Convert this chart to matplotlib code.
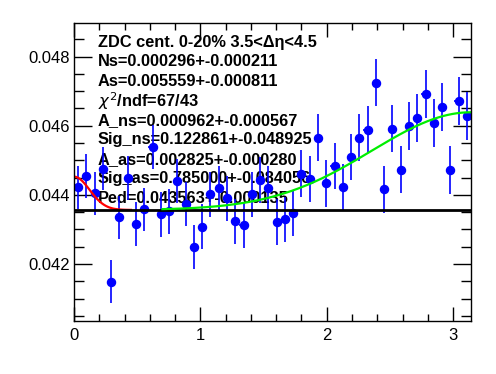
import numpy as np
import matplotlib
matplotlib.use("Agg")
import matplotlib.pyplot as plt
from matplotlib.ticker import MultipleLocator

plt.rcParams['font.family'] = ['Liberation Sans', 'DejaVu Sans']

# ---- data (48 bins from 0 to pi) ----
nbins = 48
y_vals = [0.044213, 0.044538, 0.044039, 0.044761, 0.041489, 0.043347, 0.044489, 0.043154,
          0.043578, 0.045389, 0.043434, 0.043520, 0.044394, 0.043731, 0.042499, 0.043076,
          0.044011, 0.044184, 0.043895, 0.043240, 0.043125, 0.044011, 0.044423, 0.044184,
          0.043220, 0.043289, 0.043480, 0.044616, 0.044452, 0.045655, 0.044328, 0.044827,
          0.044213, 0.045095, 0.045655, 0.045886, 0.047241, 0.044155, 0.045914, 0.044732,
          0.045981, 0.046232, 0.046924, 0.046087, 0.046538, 0.044712, 0.046722, 0.046289]
y_errs = [0.00061, 0.00063, 0.00062, 0.00063, 0.00063, 0.00063, 0.00064, 0.00063,
          0.00063, 0.00063, 0.00064, 0.00064, 0.00064, 0.00064, 0.00064, 0.00065,
          0.00065, 0.00065, 0.00065, 0.00065, 0.00065, 0.00066, 0.00066, 0.00066,
          0.00066, 0.00066, 0.00066, 0.00067, 0.00067, 0.00067, 0.00067, 0.00067,
          0.00067, 0.00067, 0.00068, 0.00068, 0.00068, 0.00068, 0.00068, 0.00068,
          0.00069, 0.00069, 0.00069, 0.00069, 0.00069, 0.00069, 0.00069, 0.00069]

# fit parameters
Ped = 0.043563
A_ns, Sig_ns = 0.000962, 0.122861
A_as, Sig_as = 0.002825, 0.785000

text_lines = [
    "ZDC cent. 0-20% 3.5<\u0394\u03b7<4.5",
    "Ns=0.000296+-0.000211",
    "As=0.005559+-0.000811",
    r"$\chi^{2}$/ndf=67/43",
    "A_ns=0.000962+-0.000567",
    "Sig_ns=0.122861+-0.048925",
    "A_as=0.002825+-0.000280",
    "Sig_as=0.785000+-0.084056",
    "Ped=0.043563+-0.000135",
]

xmin, xmax = 0.0, np.pi
bw = (xmax - xmin) / nbins
x_centers = xmin + (np.arange(nbins) + 0.5) * bw

fig = plt.figure(figsize=(4.96, 3.74), dpi=100)
ax = fig.add_axes([74/496, 1-321/374, (471-74)/496, (321-23)/374])

y0 = 42.3
for k, t in enumerate(text_lines):
    ax.text(98/496, 1 - (y0 + 19.5*k)/374, t, fontsize=11.8, fontweight='bold',
            va='center', ha='left', zorder=1, transform=fig.transFigure)

ax.errorbar(x_centers, y_vals, yerr=y_errs, xerr=bw/2, fmt='o', color='#0000ff',
            ms=5.8, elinewidth=1.2, capsize=0, zorder=3)

xs_ns = np.linspace(0, 0.45, 100)
ax.plot(xs_ns, Ped + A_ns*np.exp(-xs_ns**2/(2*Sig_ns**2)), color='#ff0000', lw=1.6, zorder=4)
xs_as = np.linspace(0.70, np.pi, 200)
ax.axhline(Ped, color='black', lw=2.0, zorder=4)
ax.plot(xs_as, Ped + A_as*np.exp(-(xs_as-np.pi)**2/(2*Sig_as**2)), color='#00ee00', lw=1.6, zorder=5)

ax.set_xlim(xmin, xmax)
ax.set_ylim(0.04035, 0.04897)
ax.xaxis.set_major_locator(MultipleLocator(1))
ax.xaxis.set_minor_locator(MultipleLocator(0.2))
ax.yaxis.set_major_locator(MultipleLocator(0.002))
ax.yaxis.set_minor_locator(MultipleLocator(0.0005))
ax.yaxis.set_major_formatter(matplotlib.ticker.FuncFormatter(lambda v, p: f"{v:.3f}"))
ax.tick_params(which='both', direction='in', top=True, right=True, labelsize=12, color='black')
ax.tick_params(which='major', axis='y', length=13, width=1)
ax.tick_params(which='minor', axis='y', length=7, width=1)
ax.tick_params(which='major', axis='x', length=10, width=1, pad=5)
ax.tick_params(which='minor', axis='x', length=5, width=1)
ax.tick_params(axis='y', pad=3)
for s in ax.spines.values():
    s.set_linewidth(1.0)
    s.set_zorder(6)

fig.savefig("out.png", dpi=100)
